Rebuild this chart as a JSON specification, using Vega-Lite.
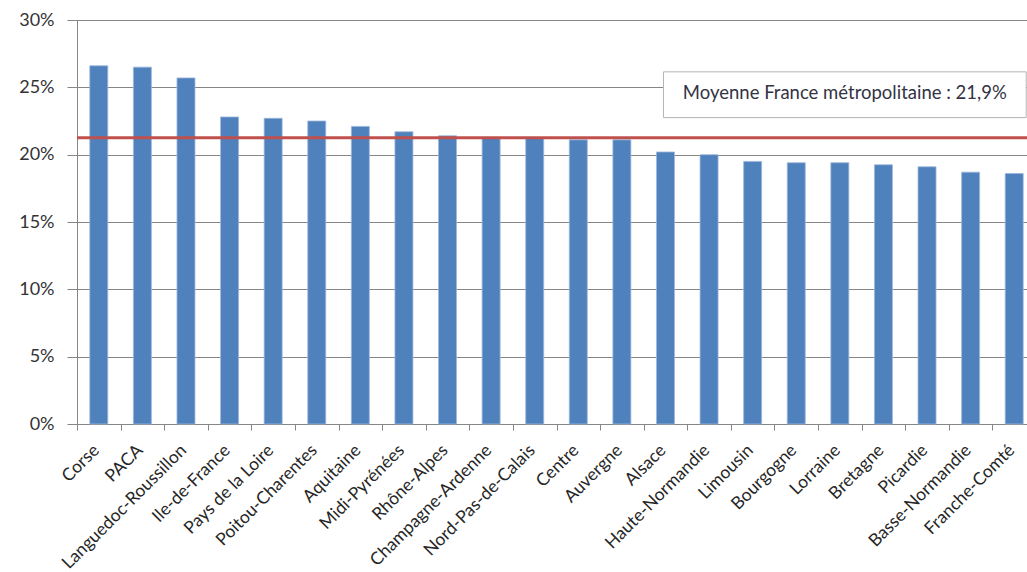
{
  "$schema": "https://vega.github.io/schema/vega-lite/v6.json",
  "width": 950,
  "height": 404,
  "autosize": "none",
  "padding": {"left": 77, "top": 20, "right": 0, "bottom": 148},
  "background": "white",
  "config": {"view": {"stroke": null}, "font": "Lato"},
  "layer": [
    {
      "data": {"values": [
        {"region": "Corse", "value": 26.6},
        {"region": "PACA", "value": 26.5},
        {"region": "Languedoc-Roussillon", "value": 25.7},
        {"region": "Ile-de-France", "value": 22.8},
        {"region": "Pays de la Loire", "value": 22.7},
        {"region": "Poitou-Charentes", "value": 22.5},
        {"region": "Aquitaine", "value": 22.1},
        {"region": "Midi-Pyrénées", "value": 21.7},
        {"region": "Rhône-Alpes", "value": 21.4},
        {"region": "Champagne-Ardenne", "value": 21.2},
        {"region": "Nord-Pas-de-Calais", "value": 21.2},
        {"region": "Centre", "value": 21.1},
        {"region": "Auvergne", "value": 21.1},
        {"region": "Alsace", "value": 20.2},
        {"region": "Haute-Normandie", "value": 20.0},
        {"region": "Limousin", "value": 19.5},
        {"region": "Bourgogne", "value": 19.4},
        {"region": "Lorraine", "value": 19.4},
        {"region": "Bretagne", "value": 19.25},
        {"region": "Picardie", "value": 19.1},
        {"region": "Basse-Normandie", "value": 18.7},
        {"region": "Franche-Comté", "value": 18.6}
      ]},
      "mark": {"type": "bar", "color": "#4F81BD", "width": 18, "stroke": "#9db7dc", "strokeWidth": 0.8},
      "encoding": {
        "x": {
          "field": "region", "type": "nominal",
          "scale": {
            "domain": ["Corse", "PACA", "Languedoc-Roussillon", "Ile-de-France", "Pays de la Loire", "Poitou-Charentes", "Aquitaine", "Midi-Pyrénées", "Rhône-Alpes", "Champagne-Ardenne", "Nord-Pas-de-Calais", "Centre", "Auvergne", "Alsace", "Haute-Normandie", "Limousin", "Bourgogne", "Lorraine", "Bretagne", "Picardie", "Basse-Normandie", "Franche-Comté"],
            "range": [0, 959], "paddingInner": 0, "paddingOuter": 0
          },
          "axis": {
            "title": null, "labelAngle": -45, "labelFontSize": 17.5, "labelColor": "#262626",
            "tickBand": "extent", "tickSize": 6, "tickColor": "#868686", "domainColor": "#868686",
            "labelPadding": 11, "labelOffset": -9, "grid": false
          }
        },
        "y": {
          "field": "value", "type": "quantitative",
          "scale": {"domain": [0, 30], "nice": false},
          "axis": {
            "title": null, "values": [0, 5, 10, 15, 20, 25, 30], "labelExpr": "datum.value + '%'",
            "labelFontSize": 18, "labelColor": "#333333", "labelPadding": 13,
            "tickSize": 10, "tickColor": "#868686", "domainColor": "#868686",
            "grid": true, "gridColor": "#868686", "gridOpacity": 1
          }
        }
      }
    },
    {
      "data": {"values": [{"moyenne": 21.25}]},
      "mark": {"type": "rule", "color": "#C0504D", "strokeWidth": 3},
      "encoding": {"y": {"field": "moyenne", "type": "quantitative"}}
    },
    {
      "data": {"values": [{"debut": "Alsace", "fin": "Franche-Comté", "haut": 26.15, "bas": 22.75}]},
      "mark": {"type": "rect", "fill": "white", "stroke": "#b3b3b3", "strokeWidth": 1, "xOffset": -2, "x2Offset": 12},
      "encoding": {
        "x": {"field": "debut", "type": "nominal", "bandPosition": 0.5},
        "x2": {"field": "fin", "bandPosition": 0.5},
        "y": {"field": "haut", "type": "quantitative"},
        "y2": {"field": "bas"}
      }
    },
    {
      "data": {"values": [{"position": "Lorraine", "niveau": 24.55, "texte": "Moyenne France métropolitaine : 21,9%"}]},
      "mark": {"type": "text", "fontSize": 18.5, "color": "#333344", "align": "center", "baseline": "middle", "dx": 5},
      "encoding": {
        "x": {"field": "position", "type": "nominal"},
        "y": {"field": "niveau", "type": "quantitative"},
        "text": {"field": "texte"}
      }
    }
  ]
}
